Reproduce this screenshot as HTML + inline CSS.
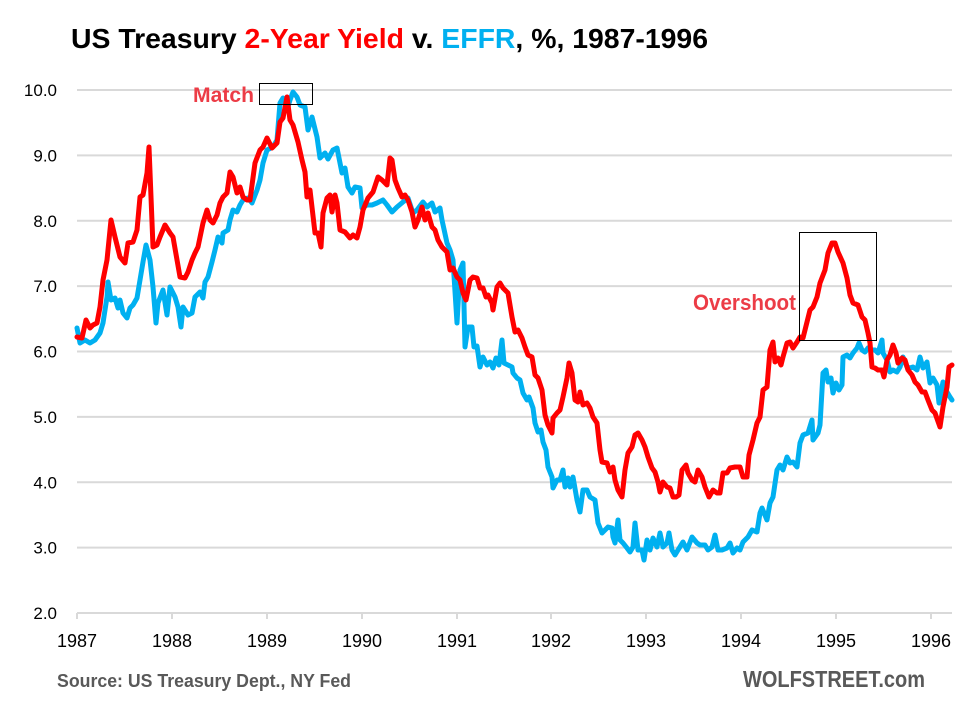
<!DOCTYPE html>
<html>
<head>
<meta charset="utf-8">
<style>
html,body{margin:0;padding:0;background:#fff;}
svg{display:block;}
text{font-family:"Liberation Sans",Arial,sans-serif;}
</style>
</head>
<body>
<svg width="961" height="706" viewBox="0 0 961 706" xmlns="http://www.w3.org/2000/svg">
<rect width="961" height="706" fill="#fff"/>
<!-- title -->
<text x="71" y="48" font-size="28" font-weight="bold" textLength="637" lengthAdjust="spacingAndGlyphs"><tspan fill="#000">US Treasury </tspan><tspan fill="#ff0000">2-Year Yield</tspan><tspan fill="#000"> v. </tspan><tspan fill="#00b0f0">EFFR</tspan><tspan fill="#000">, %, 1987-1996</tspan></text>

<!-- gridlines -->
<g stroke="#d9d9d9" stroke-width="2">
<line x1="77" y1="90" x2="952" y2="90"/>
<line x1="77" y1="155.4" x2="952" y2="155.4"/>
<line x1="77" y1="220.75" x2="952" y2="220.75"/>
<line x1="77" y1="286.1" x2="952" y2="286.1"/>
<line x1="77" y1="351.5" x2="952" y2="351.5"/>
<line x1="77" y1="416.9" x2="952" y2="416.9"/>
<line x1="77" y1="482.25" x2="952" y2="482.25"/>
<line x1="77" y1="547.6" x2="952" y2="547.6"/>
<line x1="77" y1="613" x2="952" y2="613"/>
<line x1="77" y1="613" x2="77" y2="619"/>
<line x1="172" y1="613" x2="172" y2="619"/>
<line x1="267" y1="613" x2="267" y2="619"/>
<line x1="362" y1="613" x2="362" y2="619"/>
<line x1="457" y1="613" x2="457" y2="619"/>
<line x1="551" y1="613" x2="551" y2="619"/>
<line x1="646" y1="613" x2="646" y2="619"/>
<line x1="741" y1="613" x2="741" y2="619"/>
<line x1="836" y1="613" x2="836" y2="619"/>
<line x1="931" y1="613" x2="931" y2="619"/>
</g>

<!-- y labels -->
<g font-size="17" fill="#000" text-anchor="end">
<text x="57" y="96">10.0</text>
<text x="57" y="161.4">9.0</text>
<text x="57" y="226.75">8.0</text>
<text x="57" y="292.1">7.0</text>
<text x="57" y="357.5">6.0</text>
<text x="57" y="422.9">5.0</text>
<text x="57" y="488.25">4.0</text>
<text x="57" y="553.6">3.0</text>
<text x="57" y="619">2.0</text>
</g>

<!-- x labels -->
<g font-size="18" fill="#000" text-anchor="middle">
<text x="77" y="647">1987</text>
<text x="172" y="647">1988</text>
<text x="267" y="647">1989</text>
<text x="362" y="647">1990</text>
<text x="457" y="647">1991</text>
<text x="551" y="647">1992</text>
<text x="646" y="647">1993</text>
<text x="741" y="647">1994</text>
<text x="836" y="647">1995</text>
<text x="931" y="647">1996</text>
</g>

<!-- EFFR (blue) -->
<polyline fill="none" stroke="#00b0f0" stroke-width="5" stroke-linejoin="round" stroke-linecap="round" points="77,328 80,343 85,340 90,343 95,340 100,333 103,323 107,297 108,282 111,300 115,298 118,308 120,300 123,313 127,318 130,308 133,305 137,298 140,280 143,262 146,245 150,260 153,287 156,323 158,303 163,290 167,315 170,287 175,297 178,307 181,327 183,307 188,315 192,313 195,297 200,292 203,298 205,282 208,277 212,262 215,250 218,237 222,243 223,233 228,230 230,220 233,210 237,212 240,205 243,200 248,198 252,203 257,190 260,180 263,163 267,150 273,147 277,140 280,103 283,98 287,110 290,100 293,92 297,97 300,105 305,107 308,130 312,117 317,137 320,158 325,153 328,159 333,150 337,148 342,173 345,168 348,187 352,193 355,187 360,188 362,208 367,205 372,205 377,203 383,200 387,205 392,212 397,207 403,202 408,198 413,213 417,210 423,202 427,207 432,203 435,212 440,208 442,220 447,243 450,250 453,260 457,323 460,270 463,263 465,347 468,327 472,327 474,347 477,346 480,367 483,357 487,365 490,362 493,368 496,358 499,365 502,340 504,363 508,365 512,367 513,373 517,378 520,380 523,393 527,400 529,397 533,408 535,423 538,432 541,430 543,442 546,450 548,467 552,477 553,488 557,480 560,480 563,470 565,487 568,478 570,487 573,477 577,500 580,512 583,490 587,490 590,497 595,500 598,523 602,533 605,530 608,527 612,528 613,537 615,543 618,520 620,540 623,543 627,548 630,552 633,547 635,523 638,550 642,550 644,560 647,540 650,550 653,538 657,547 660,533 663,547 667,543 669,533 672,550 675,555 678,550 683,542 687,550 692,537 697,543 700,545 705,545 708,550 712,547 715,535 718,550 722,550 727,548 730,543 733,553 737,548 740,550 743,542 748,537 752,530 757,532 760,513 762,508 767,520 770,503 773,497 777,470 780,465 783,470 787,457 790,463 793,462 797,467 800,443 803,435 808,433 812,420 813,440 818,433 820,425 823,373 826,370 828,382 831,378 833,393 836,383 839,390 842,385 843,357 847,355 850,358 853,353 857,348 859,343 862,350 865,352 868,348 872,350 875,350 878,353 882,340 883,353 887,360 890,372 893,370 897,372 900,367 903,357 907,367 910,368 913,367 917,370 920,357 923,368 927,362 930,383 933,378 937,385 939,403 943,382 947,392 950,397 952,400"/>

<!-- 2-Year (red) -->
<polyline fill="none" stroke="#ff0000" stroke-width="5" stroke-linejoin="round" stroke-linecap="round" points="77,337 82,338 86,320 90,328 93,325 97,323 100,307 103,280 107,260 111,220 115,237 120,257 125,263 128,243 133,242 137,230 140,197 143,195 147,173 149,147 151,197 153,247 157,245 160,237 165,225 170,233 173,237 180,277 185,278 188,272 192,260 195,253 198,247 203,223 207,210 210,220 213,223 217,215 220,203 223,197 227,193 230,172 233,177 237,193 240,187 243,197 247,200 250,200 255,163 260,150 263,147 267,138 272,148 277,143 280,122 283,118 287,97 290,120 293,125 298,142 302,160 305,172 307,197 310,190 315,233 318,233 321,247 323,213 327,198 330,195 332,212 335,195 337,203 340,230 345,232 350,238 353,235 357,238 360,227 363,210 368,198 373,192 378,177 382,180 387,185 390,158 392,160 395,180 398,188 402,197 405,195 408,200 412,212 415,227 418,220 422,207 425,220 428,213 432,227 435,230 438,240 442,247 447,252 450,270 453,268 457,277 460,280 463,293 466,300 470,280 473,277 477,278 480,288 483,288 486,297 488,295 492,303 493,310 497,287 500,283 503,288 508,293 512,317 515,332 518,330 522,338 525,347 528,355 532,357 535,375 538,378 542,390 545,415 548,425 552,433 553,418 557,413 560,410 563,397 567,378 569,363 572,373 575,400 578,402 580,392 583,405 587,403 590,408 593,417 597,423 600,450 602,462 607,463 610,472 613,467 615,480 618,490 622,497 625,470 628,453 632,447 635,435 638,433 642,440 645,447 648,457 652,468 655,472 658,482 660,492 663,482 667,487 670,488 673,497 676,497 679,495 682,470 686,465 688,473 692,480 695,482 698,470 702,477 705,487 709,497 713,490 717,493 720,493 723,473 727,473 730,468 735,467 740,467 743,477 747,477 749,455 753,440 757,423 760,417 763,390 767,387 770,350 773,342 775,362 778,358 781,365 783,357 787,343 790,342 793,348 797,342 800,337 803,338 805,330 810,310 813,307 817,297 820,283 825,270 828,253 832,243 835,243 838,252 843,263 847,278 850,295 853,303 858,305 862,317 865,320 868,333 870,343 872,367 875,368 878,370 882,370 884,377 887,360 890,355 893,345 896,353 898,363 902,358 905,360 908,370 912,375 915,382 918,385 922,392 925,392 928,400 932,410 935,413 940,427 943,407 947,387 949,367 952,365"/>

<!-- annotations -->
<rect x="259.5" y="83.5" width="53" height="21" fill="none" stroke="#000" stroke-width="1"/>
<text x="193" y="102" font-size="21" font-weight="bold" fill="#ec3c46" textLength="61" lengthAdjust="spacingAndGlyphs">Match</text>
<rect x="799.5" y="232.5" width="77" height="108" fill="none" stroke="#000" stroke-width="1"/>
<text x="693" y="310" font-size="22" font-weight="bold" fill="#ec3c46" textLength="103" lengthAdjust="spacingAndGlyphs">Overshoot</text>

<!-- footer -->
<text x="57" y="687" font-size="18" font-weight="bold" fill="#595959" textLength="294" lengthAdjust="spacingAndGlyphs">Source: US Treasury Dept., NY Fed</text>
<text x="743" y="687" font-size="23" font-weight="bold" fill="#595959" textLength="182" lengthAdjust="spacingAndGlyphs">WOLFSTREET.com</text>
</svg>
</body>
</html>
